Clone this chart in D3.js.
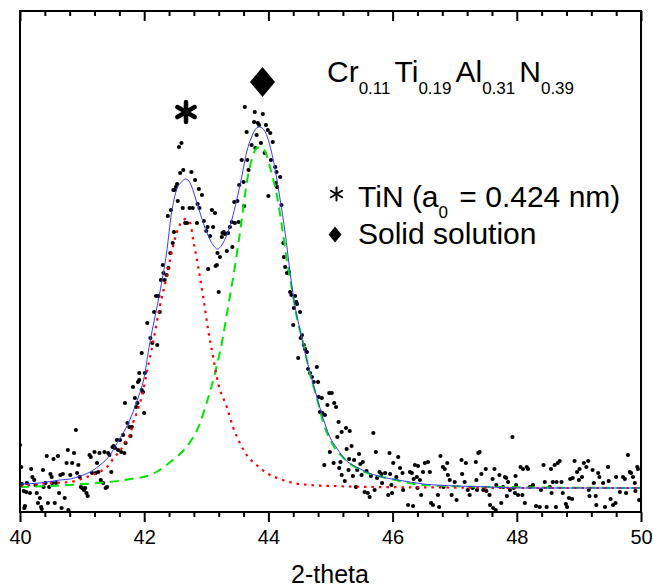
<!DOCTYPE html>
<html>
<head>
<meta charset="utf-8">
<script src="https://cdn.jsdelivr.net/npm/d3@7"></script>
<style>
  body { margin: 0; background: #fff; }
  svg text { font-family: "Liberation Sans", Arial, sans-serif; fill: #000; }
</style>
</head>
<body>
<div id="chart"></div>
<script>
// measured XRD scan, [2-theta, intensity a.u.]
var scan = [
  [40.00,67],[40.02,45],[40.03,28],[40.06,21],[40.07,4],[40.10,20],[40.11,29],[40.16,19],[40.18,43],[40.20,35],
  [40.23,32],[40.25,27],[40.27,19],[40.29,9],[40.32,14],[40.35,3],[40.37,42],[40.38,25],[40.41,29],[40.43,56],
  [40.45,9],[40.47,25],[40.49,38],[40.51,35],[40.52,29],[40.54,53],[40.56,9],[40.58,29],[40.61,56],[40.63,19],
  [40.65,37],[40.67,4],[40.69,38],[40.72,14],[40.75,49],[40.77,62],[40.78,2],[40.81,37],[40.84,49],[40.87,59],
  [40.90,82],[40.92,39],[40.94,47],[40.96,35],[40.98,25],[41.00,24],[41.03,22],[41.05,24],[41.07,19],[41.09,16],
  [41.12,57],[41.14,55],[41.16,39],[41.20,60],[41.22,39],[41.24,49],[41.26,40],[41.28,59],[41.30,32],[41.34,29],
  [41.36,60],[41.38,24],[41.40,25],[41.42,59],[41.44,57],[41.47,40],[41.49,65],[41.51,66],[41.53,64],[41.56,72],
  [41.58,62],[41.61,72],[41.63,60],[41.66,77],[41.68,59],[41.70,69],[41.73,89],[41.76,85],[41.78,76],[41.80,85],
  [41.69,109],[41.82,125],[41.85,114],[41.87,105],[41.89,109],[41.90,130],[41.92,132],[42.00,99],[41.96,122],
  [41.92,139],[41.98,120],[41.96,159],[42.01,139],[42.05,189],[42.10,174],[42.13,169],[42.16,200],[42.19,216],
  [42.21,167],[42.23,216],[42.25,200],[42.27,232],[42.31,239],[42.30,247],[42.33,232],[42.36,237],[42.39,244],
  [42.42,259],[42.46,269],[42.38,296],[42.43,302],[42.48,280],[42.47,322],[42.49,322],[42.51,325],[42.53,328],
  [42.54,311],[42.58,339],[42.63,342],[42.56,365],[42.60,369],[42.62,304],[42.66,289],[42.69,289],[42.73,304],
  [42.76,340],[42.78,304],[42.82,332],[42.85,289],[42.86,308],[42.88,323],[42.89,304],[42.93,317],[42.96,291],
  [43.00,281],[43.02,285],[43.03,243],[43.06,276],[43.09,302],[43.11,285],[43.14,299],[43.15,246],[43.17,247],
  [43.18,259],[43.20,220],[43.22,255],[43.25,275],[43.26,279],[43.28,280],[43.30,278],[43.33,261],[43.35,279],
  [43.38,285],[43.42,265],[43.41,290],[43.46,289],[43.45,310],[43.50,311],[43.52,290],[43.53,327],[43.57,352],
  [43.61,306],[43.60,330],[43.65,380],[43.66,352],[43.68,342],[43.62,405],[43.73,367],[43.77,390],[43.78,400],
  [43.79,364],[43.81,377],[43.83,389],[43.85,387],[43.88,369],[43.91,398],[43.94,359],[43.96,387],[43.99,382],
  [44.03,379],[44.04,352],[44.00,316],[44.07,370],[44.11,345],[44.13,340],[44.19,335],[44.12,329],[44.14,325],
  [44.21,307],[44.24,269],[44.25,255],[44.27,245],[44.30,239],[44.35,220],[44.37,217],[44.43,216],[44.46,208],
  [44.51,200],[44.40,187],[44.54,177],[44.57,167],[44.59,163],[44.62,160],[44.48,154],[44.67,139],[44.70,135],
  [44.78,145],[44.73,130],[44.80,130],[44.33,240],[44.41,204],[44.45,210],[44.52,174],[44.64,143],
  [44.81,115],[44.86,114],[44.98,119],[45.02,119],[44.95,107],[45.06,109],[45.09,105],[44.83,100],[44.87,99],
  [44.91,97],[45.13,90],[45.25,84],[45.31,81],[45.18,80],[45.11,75],[45.69,79],[45.34,66],[45.26,63],[44.99,60],
  [45.73,60],[45.95,59],[45.46,58],[45.30,53],[45.38,52],[45.05,49],[45.16,50],[44.90,47],[45.52,50],[45.48,48],
  [46.01,49],[46.09,55],[46.36,47],[46.41,46],[45.14,44],[45.29,42],[45.43,42],[45.58,41],[45.79,40],[45.88,39],
  [45.96,38],[46.12,44],[46.16,39],[46.28,40],[46.31,39],[45.18,37],[45.36,36],[45.50,37],[45.65,36],[45.82,38],
  [46.39,35],[45.23,31],[45.41,25],[45.55,20],[45.63,15],[45.60,19],[45.75,34],[45.83,29],[45.71,22],[45.98,27],
  [46.06,35],[45.93,17],[45.99,19],[46.17,22],[46.25,7],[46.33,6],[46.34,33],[46.40,24],
  [46.44,32],[46.49,40],[46.60,40],[46.52,49],[46.57,50],[46.46,17],[46.62,9],[46.65,7],[46.75,5],[46.73,17],
  [46.77,56],[46.81,45],[46.84,43],[46.88,49],[46.89,37],[46.92,32],[46.82,25],[47.00,30],[46.95,17],[47.03,12],
  [47.11,52],[47.18,49],[47.12,38],[47.16,30],[47.21,22],[47.24,17],[47.29,24],[47.34,50],[47.38,59],[47.40,60],
  [47.35,32],[47.36,22],[47.43,38],[47.50,43],[47.46,22],[47.51,21],[47.56,17],[47.57,7],[47.62,4],[47.66,2],
  [47.61,33],[47.64,43],[47.67,27],[47.72,37],[47.75,9],[47.81,35],[47.83,34],[47.78,25],[47.86,30],[47.89,22],
  [47.84,16],[47.93,75],[47.97,19],[47.99,27],[47.95,24],[48.02,17],[48.09,17],[47.98,36],[48.06,45],[48.10,43],
  [48.16,45],[48.13,9],[48.18,43],[48.21,25],[48.26,27],[48.31,6],[48.37,5],[48.39,22],[48.43,47],[48.45,30],
  [48.48,5],[48.53,25],[48.56,19],[48.55,43],[48.58,30],[48.64,30],[48.61,47],[48.66,49],[48.69,51],[48.63,5],
  [48.72,30],[48.74,19],[48.79,8],[48.81,5],[48.84,14],[48.89,13],[48.86,33],[48.90,34],[48.93,51],[48.97,40],
  [49.00,32],[49.01,43],[49.05,35],[49.08,49],[49.15,51],[49.12,45],[49.16,22],[49.17,16],[49.22,42],[49.24,29],
  [49.27,16],[49.28,7],[49.31,39],[49.33,35],[49.39,29],[49.42,5],[49.47,45],[49.48,31],[49.51,13],[49.55,7],
  [49.59,9],[49.60,35],[49.66,20],[49.71,35],[49.74,33],[49.76,19],[49.79,57],[49.82,40],[49.84,39],[49.87,35],
  [49.90,29],[49.94,45],[49.95,43],[49.97,12],[49.91,21],[40.08,6],[40.34,5]
];

// total fit (blue)
var fitTotal = [
  [40.00,28],[40.32,29],[40.64,32],[40.81,33],[40.97,36],[41.13,40],[41.29,47],[41.45,57],[41.53,65],[41.61,74],
  [41.69,82],[41.82,100],[41.90,114],[41.99,132],[42.09,169],[42.25,219],[42.36,259],[42.44,299],[42.52,322],
  [42.60,330],[42.67,333],[42.74,329],[42.82,315],[42.90,299],[43.01,279],[43.11,267],[43.18,263],[43.25,267],
  [43.33,277],[43.41,292],[43.49,312],[43.57,335],[43.65,360],[43.73,375],[43.81,384],[43.86,385],[43.95,380],
  [44.03,365],[44.11,342],[44.19,312],[44.27,279],[44.35,239],[44.43,205],[44.51,182],[44.59,159],[44.67,140],
  [44.78,115],[44.88,94],[44.99,75],[45.10,64],[45.26,51],[45.42,45],[45.66,38],[45.90,34],[46.09,32],[46.49,28],
  [47.03,26],[47.56,25],[48.10,24],[49.17,24],[50.00,24]
];

// TiN peak (red, dotted)
var fitTiN = [
  [40.00,26],[40.49,29],[40.81,30],[41.03,34],[41.24,39],[41.40,45],[41.51,54],[41.62,62],[41.70,70],[41.78,79],
  [41.82,89],[41.88,99],[41.92,107],[41.96,115],[42.04,139],[42.15,172],[42.25,205],[42.36,235],[42.44,259],
  [42.52,279],[42.60,290],[42.67,293],[42.74,289],[42.79,272],[42.87,245],[42.95,215],[43.03,182],[43.11,155],
  [43.19,129],[43.33,105],[43.43,85],[43.54,69],[43.65,57],[43.81,47],[43.97,39],[44.19,33],[44.40,29],[44.67,27],
  [45.05,26],[45.69,25],[46.92,24.5],[48.10,24],[50.00,24]
];

// solid solution peak (green, dashed)
var fitSolid = [
  [40.00,25],[40.49,26],[41.03,28],[41.45,30],[41.78,33],[42.10,37],[42.36,47],[42.48,53],[42.68,65],[42.90,89],
  [43.01,110],[43.14,139],[43.25,169],[43.35,205],[43.46,245],[43.57,292],[43.65,329],[43.73,352],[43.81,364],
  [43.88,365],[43.97,357],[44.05,339],[44.13,319],[44.21,289],[44.29,255],[44.38,222],[44.46,194],[44.56,169],
  [44.67,138],[44.78,114],[44.88,90],[45.04,67],[45.21,54],[45.42,44],[45.64,38],[45.91,34],[46.49,27],
  [47.56,25],[50.00,24]
];

var majorTicks = [40, 42, 44, 46, 48, 50];
var minorTicks = [40.4, 40.8, 41.2, 41.6, 42.4, 42.8, 43.2, 43.6, 44.4, 44.8, 45.2, 45.6,
                  46.4, 46.8, 47.2, 47.6, 48.4, 48.8, 49.2, 49.6];
var xLabel = "2-theta";

var W = 653, H = 587;
var margin = {top: 11, right: 12, bottom: 75, left: 20};
var w = W - margin.left - margin.right,
    h = H - margin.top - margin.bottom;

var svg = d3.select("#chart").append("svg")
    .attr("width", W)
    .attr("height", H);

var g = svg.append("g")
    .attr("transform", "translate(" + margin.left + "," + margin.top + ")");

var x = d3.scaleLinear().domain([40, 50]).range([0, w]);
var y = d3.scaleLinear().domain([0, 501]).range([h, 0]);

g.append("clipPath").attr("id", "clip")
  .append("rect").attr("width", w).attr("height", h);

var plot = g.append("g").attr("clip-path", "url(#clip)");

// data points
plot.selectAll("circle")
  .data(scan)
  .enter()
    .append("circle")
    .attr("cx", function(d) { return x(d[0]); })
    .attr("cy", function(d) { return y(d[1]); })
    .attr("r", 2.1)
    .attr("fill", "#000");

var line = d3.line()
    .x(function(d) { return x(d[0]); })
    .y(function(d) { return y(d[1]); })
    .curve(d3.curveMonotoneX);

plot.append("path").datum(fitSolid)
    .attr("d", line)
    .attr("fill", "none")
    .attr("stroke", "#00e600")
    .attr("stroke-width", 2)
    .attr("stroke-dasharray", "9,6");

plot.append("path").datum(fitTiN)
    .attr("d", line)
    .attr("fill", "none")
    .attr("stroke", "#ff0000")
    .attr("stroke-width", 2.2)
    .attr("stroke-dasharray", "2.5,5");

plot.append("path").datum(fitTotal)
    .attr("d", line)
    .attr("fill", "none")
    .attr("stroke", "#3a3aff")
    .attr("stroke-width", 1);

// axes: bottom ticks point out, top ticks point in
g.append("g").attr("class", "axis")
    .attr("transform", "translate(0," + h + ")")
    .call(d3.axisBottom(x).tickValues(minorTicks).tickSize(5).tickFormat(""));

var bottom = g.append("g").attr("class", "axis")
    .attr("transform", "translate(0," + h + ")")
    .call(d3.axisBottom(x).tickValues(majorTicks).tickSize(10).tickPadding(8)
      .tickFormat(d3.format("d")));
bottom.selectAll("text").attr("font-size", 20).attr("font-family", null);

g.append("g").attr("class", "axis")
    .call(d3.axisTop(x).tickValues(minorTicks).tickSize(-5).tickFormat(""));
g.append("g").attr("class", "axis")
    .call(d3.axisTop(x).tickValues(majorTicks).tickSize(-10).tickFormat(""));

g.selectAll(".axis path").remove();
g.selectAll(".axis line").attr("stroke", "#000").attr("stroke-width", 2);

// frame
g.append("rect")
    .attr("width", w).attr("height", h)
    .attr("fill", "none")
    .attr("stroke", "#000")
    .attr("stroke-width", 2);

svg.append("text")
    .attr("x", 330)
    .attr("y", 583)
    .attr("text-anchor", "middle")
    .attr("font-size", 25)
    .text(xLabel);

// peak markers
function asterisk(sel, cx, cy, r, sw) {
  [90, 30, 150].forEach(function(a) {
    var t = a * Math.PI / 180;
    sel.append("line")
      .attr("x1", cx - r * Math.cos(t)).attr("y1", cy - r * Math.sin(t))
      .attr("x2", cx + r * Math.cos(t)).attr("y2", cy + r * Math.sin(t))
      .attr("stroke", "#000").attr("stroke-width", sw).attr("stroke-linecap", "round");
  });
}
function diamond(sel, cx, cy, hw, hh) {
  sel.append("path")
    .attr("d", "M" + cx + "," + (cy - hh) + "L" + (cx + hw) + "," + cy +
               "L" + cx + "," + (cy + hh) + "L" + (cx - hw) + "," + cy + "Z")
    .attr("fill", "#000");
}
asterisk(svg, 186, 112, 10, 4.5);
diamond(svg, 262.5, 82, 12.5, 15);

// composition label
var title = svg.append("text").attr("x", 327).attr("y", 82).attr("font-size", 30);
[["Cr", "0.11"], ["Ti", "0.19"], ["Al", "0.31"], ["N", "0.39"]].forEach(function(p, i) {
  title.append("tspan").attr("dx", i ? 4 : 0).attr("dy", i ? -12 : 0).text(p[0]);
  title.append("tspan").attr("font-size", 17).attr("dy", 12).text(p[1]);
});

// legend
asterisk(svg, 336.5, 194, 6.5, 2);
var leg1 = svg.append("text").attr("x", 358).attr("y", 207).attr("font-size", 30);
leg1.append("tspan").text("TiN (a");
leg1.append("tspan").attr("font-size", 17).attr("dy", 11).text("0");
leg1.append("tspan").attr("dy", -11).attr("dx", 3).text(" = 0.424 nm)");

diamond(svg, 335, 234.5, 6.5, 8);
svg.append("text").attr("x", 358).attr("y", 244).attr("font-size", 30).text("Solid solution");
</script>
</body>
</html>
